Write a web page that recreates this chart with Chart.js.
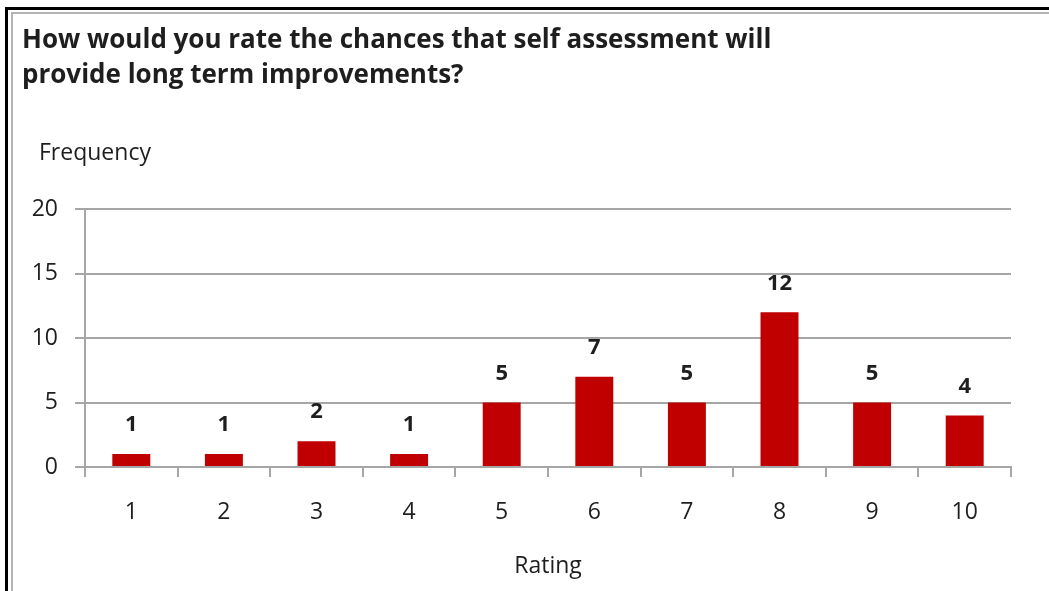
<!DOCTYPE html>
<html>
<head>
<meta charset="utf-8">
<script src="https://cdn.jsdelivr.net/npm/chart.js@4"></script>
<style>
  html, body { margin: 0; padding: 0; background: #fff; }
  #wrap { width: 1049px; height: 591px; }
</style>
</head>
<body>
<div id="wrap"><canvas id="ratingChart" width="1049" height="591"></canvas></div>
<script>
const titleLines = ["How would you rate the chances that self assessment will", "provide long term improvements?"];
const ratings = ["1", "2", "3", "4", "5", "6", "7", "8", "9", "10"];
const frequency = [1, 1, 2, 1, 5, 7, 5, 12, 5, 4];
const yTicks = [0, 5, 10, 15, 20];

const FONT = "'Open Sans', Lato, sans-serif";
const TEXT = "#1e1e1e";
const GRID = "#a6a6a6";

// frame lines, the "Frequency" label and the value labels above each bar
const extras = {
  id: "extras",
  beforeDraw(chart) {
    const c = chart.ctx;
    c.save();
    c.fillStyle = "#fff";
    c.fillRect(0, 0, chart.width, chart.height);
    c.fillStyle = "#000";
    c.fillRect(5, 7, chart.width - 5, 3);
    c.fillRect(5, 7, 3, chart.height - 7);
    c.fillStyle = "#b4b4b4";
    c.fillRect(11, 12, chart.width - 11, 2);
    c.fillRect(11, 12, 2, chart.height - 12);
    c.restore();
  },
  afterDatasetsDraw(chart) {
    const c = chart.ctx;
    const area = chart.chartArea;
    c.save();
    c.fillStyle = TEXT;
    c.font = "23px " + FONT;
    c.textAlign = "left";
    c.textBaseline = "middle";
    c.fillText("Frequency", area.left - 46, area.top - 56);
    c.font = "bold 22px " + FONT;
    c.textAlign = "center";
    chart.getDatasetMeta(0).data.forEach((bar, i) => {
      c.fillText(frequency[i], bar.x, bar.y - 29);
    });
    c.restore();
  }
};

new Chart(document.getElementById("ratingChart"), {
  type: "bar",
  data: {
    labels: ratings,
    datasets: [{
      label: "Frequency",
      data: frequency,
      backgroundColor: "#c00000",
      barPercentage: 0.41,
      categoryPercentage: 1
    }]
  },
  options: {
    responsive: false,
    animation: false,
    layout: { padding: { left: 22, top: 23, right: 38, bottom: 0 } },
    plugins: {
      legend: { display: false },
      tooltip: { enabled: false },
      title: {
        display: true,
        text: titleLines,
        align: "start",
        color: TEXT,
        font: { family: FONT, size: 26, weight: "bold", lineHeight: 1.35 },
        padding: { top: 0, bottom: 116 }
      }
    },
    scales: {
      x: {
        grid: { offset: true, drawOnChartArea: false, drawTicks: true, tickLength: 10, color: GRID, lineWidth: 2 },
        border: { color: GRID, width: 2 },
        ticks: { color: TEXT, font: { family: FONT, size: 23 }, padding: 22 },
        title: { display: true, text: "Rating", color: TEXT, font: { family: FONT, size: 23 }, padding: { top: 0, bottom: 11 } },
        afterFit(scale) { scale.height = 124; }
      },
      y: {
        min: 0,
        max: 20,
        afterBuildTicks(scale) { scale.ticks = yTicks.map(v => ({ value: v })); },
        grid: { color: GRID, lineWidth: 2, drawTicks: true, tickLength: 10 },
        border: { color: GRID, width: 2 },
        ticks: { color: TEXT, font: { family: FONT, size: 23 }, padding: 17 },
        afterFit(scale) { scale.width = 63; }
      }
    }
  },
  plugins: [extras]
});
</script>
</body>
</html>
